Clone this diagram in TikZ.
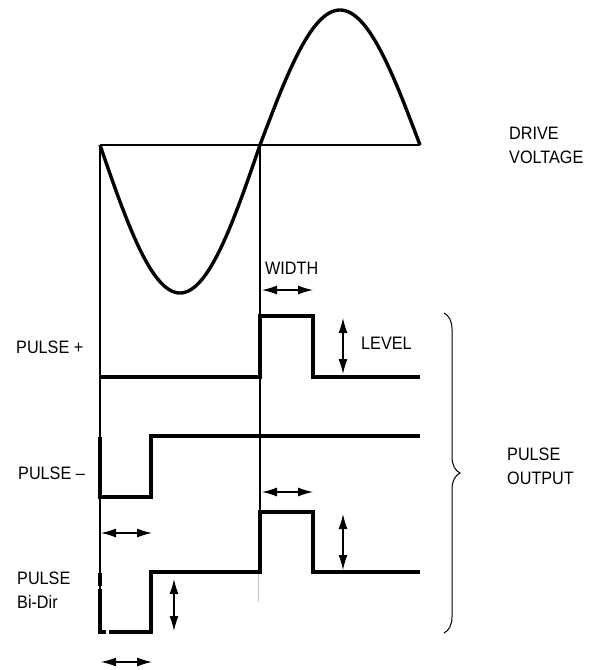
\documentclass[tikz,border=0pt]{standalone}
\usepackage{fontspec}
\setmainfont{Liberation Sans}[FakeStretch=0.9]
\usetikzlibrary{arrows.meta,decorations.pathreplacing}
\begin{document}
\begin{tikzpicture}[x=1pt,y=-1pt,
  wave/.style={line width=3.4pt, line join=miter},
  thinline/.style={line width=1.5pt},
  dimarrow/.style={line width=1.2pt, {Latex[length=15pt,width=9pt]}-{Latex[length=15pt,width=9pt]}},
  lbl/.style={font=\fontsize{18}{24}\selectfont, inner sep=0pt, align=left, anchor=west}]
\useasboundingbox (0,0) rectangle (590,670);
% thin reference lines
\draw[thinline] (100,145) -- (420,145);
\draw[thinline] (100,145) -- (100,632);
\draw[thinline] (260,145) -- (260,572);
\draw[line width=1pt, black!25] (258,573) -- (258,602);
% drive voltage sine
\draw[wave] plot[domain=100:260, samples=80] ({\x},{145+148*sin(1.125*(\x-100))})
  -- plot[domain=260:420, samples=80] ({\x},{145-135*sin(1.125*(\x-260))});
% pulse +
\draw[wave] (100,377) -- (260,377) -- (260,316) -- (313,316) -- (313,377) -- (420,377);
% pulse -
\draw[wave] (100,437) -- (100,497) -- (151,497) -- (151,436) -- (420,436);
% pulse bi-dir
\draw[wave] (100,573) -- (100,586);
\draw[wave] (100,589) -- (100,632) -- (106,632);
\draw[wave] (109,632) -- (151,632) -- (151,572) -- (260,572) -- (260,512) -- (313,512) -- (313,572) -- (420,572);
% dimension arrows
\coordinate (w1a) at (262,290); \coordinate (w1b) at (313,290);
\coordinate (l1a) at (343,318); \coordinate (l1b) at (343,374);
\coordinate (w2a) at (262,492); \coordinate (w2b) at (313,492);
\coordinate (l2a) at (343,514); \coordinate (l2b) at (343,570);
\coordinate (w3a) at (101,533); \coordinate (w3b) at (152,533);
\coordinate (l3a) at (174,579); \coordinate (l3b) at (174,631);
\coordinate (w4a) at (101,662); \coordinate (w4b) at (152,662);
\draw[dimarrow] (w1a) -- (w1b);
\draw[dimarrow] (l1a) -- (l1b);
\draw[dimarrow] (w2a) -- (w2b);
\draw[dimarrow] (l2a) -- (l2b);
\draw[dimarrow] (w3a) -- (w3b);
\draw[dimarrow] (l3a) -- (l3b);
\draw[dimarrow] (w4a) -- (w4b);
% brace
\coordinate (bt) at (444,313); \coordinate (bb) at (444,633);
\draw[line width=1pt, decorate, decoration={brace, amplitude=16pt}] (bt) -- (bb);
% labels
\node[lbl] (drive) at (509,145) {DRIVE\\VOLTAGE};
\node[lbl] (width) at (265,268) {WIDTH};
\node[lbl] (level) at (361,343) {LEVEL};
\node[lbl] (pplus) at (16,347) {PULSE +};
\node[lbl] (pminus) at (18,473) {PULSE \textendash};
\node[lbl] (pbidir) at (17,590) {PULSE\\Bi-Dir};
\node[lbl] (pout) at (507,466) {PULSE\\OUTPUT};
\end{tikzpicture}
\end{document}
